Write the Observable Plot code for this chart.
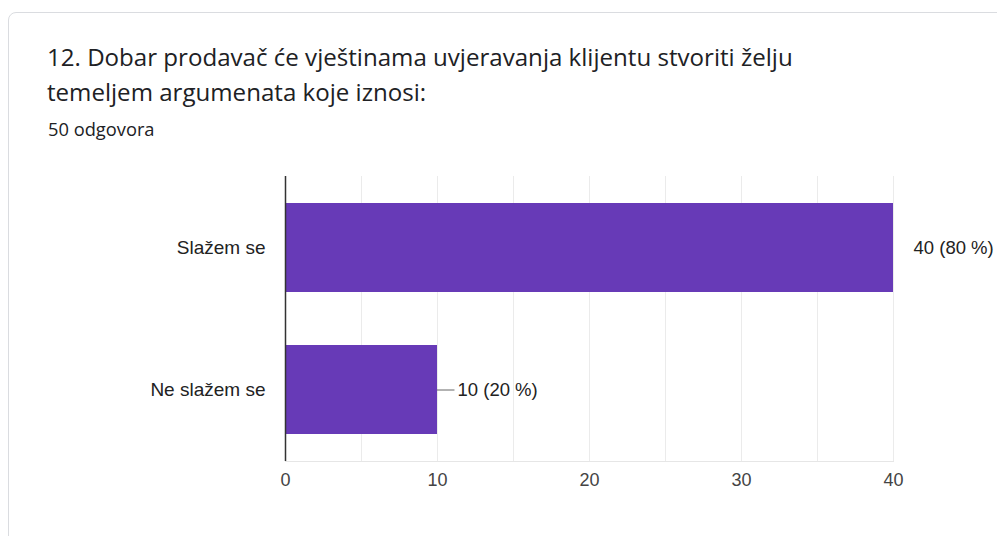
<!DOCTYPE html>
<html>
<head>
<meta charset="utf-8">
<script src="https://cdn.jsdelivr.net/npm/d3@7"></script>
<script src="https://cdn.jsdelivr.net/npm/@observablehq/plot@0.6"></script>
<style>
  html, body { margin: 0; padding: 0; background: #ffffff; width: 997px; height: 536px; overflow: hidden; }
  #card { position: absolute; left: 8px; top: 12px; width: 1100px; height: 700px; border: 1px solid #dadce0; border-radius: 8px; background: #fff; }
  #title { position: absolute; left: 47px; top: 39px; font-family: "Open Sans", sans-serif; font-size: 24.1px; line-height: 35px; color: #202124; }
  #sub { position: absolute; left: 48px; top: 117px; font-family: "Open Sans", sans-serif; font-size: 18.3px; line-height: 24px; color: #202124; }
  #chart { position: absolute; left: 0; top: 150px; }
</style>
</head>
<body>
<div id="card"></div>
<div id="title">12. Dobar prodavač će vještinama uvjeravanja klijentu stvoriti želju<br>temeljem argumenata koje iznosi:</div>
<div id="sub">50 odgovora</div>
<div id="chart"></div>
<script>
const categories = ["Slažem se", "Ne slažem se"];
const counts = [40, 10];
const percents = [80, 20];
const tickValues = [0, 10, 20, 30, 40];
const gridValues = [5, 10, 15, 20, 25, 30, 35, 40];

const data = categories.map((c, i) => ({category: c, value: counts[i], pct: percents[i]}));
const maxVal = d3.max(counts);

const chart = Plot.plot({
  width: 997,
  height: 351,
  marginTop: 26,
  marginBottom: 40,
  marginLeft: 285,
  marginRight: 104,
  style: {fontFamily: "'Liberation Sans', Arial, sans-serif", fontSize: "18px", background: "transparent"},
  x: {domain: [0, 40]},
  y: {domain: categories, paddingInner: 0.375, paddingOuter: 0.1875},
  marks: [
    Plot.ruleX(gridValues, {stroke: "#ebebeb", strokeWidth: 1, strokeOpacity: 1}),
    Plot.frame({anchor: "bottom", stroke: "#e6e6e6"}),
    Plot.barX(data, {y: "category", x: "value", fill: "#673ab7"}),
    Plot.ruleY(data.filter(d => d.value < maxVal), {y: "category", x1: "value", x2: d => d.value + 1.15, stroke: "#666", strokeWidth: 1}),
    Plot.text(data, {y: "category", x: "value", text: d => `${d.value} (${d.pct} %)`, textAnchor: "start", dx: 20, fill: "#222", fontSize: 18.5}),
    Plot.ruleX([0], {stroke: "#333", strokeWidth: 1.5}),
    Plot.axisX({ticks: tickValues, tickSize: 0, tickPadding: 12, fill: "#444", fontSize: 18, label: null}),
    Plot.axisY({tickSize: 0, tickPadding: 20, fill: "#222", fontSize: 19, label: null})
  ]
});
document.getElementById("chart").appendChild(chart);
</script>
</body>
</html>
